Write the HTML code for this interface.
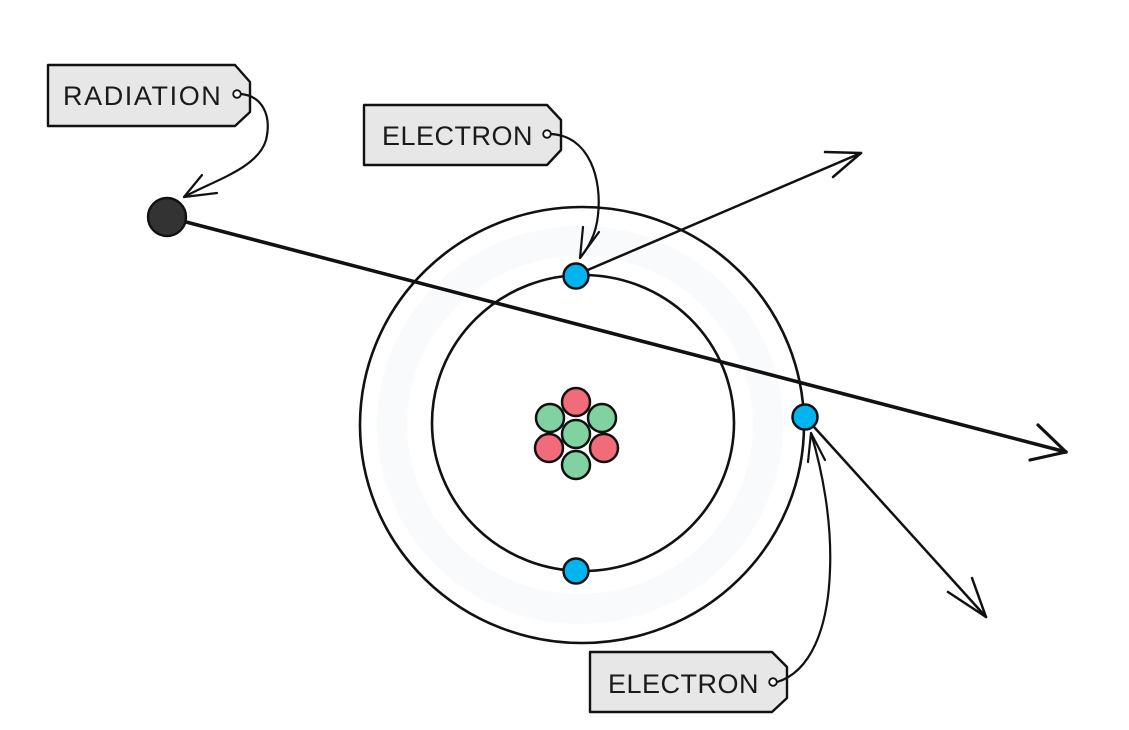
<!DOCTYPE html>
<html>
<head>
<meta charset="utf-8">
<style>
  html, body { margin: 0; padding: 0; background: #ffffff; }
  body { width: 1129px; height: 730px; overflow: hidden; }
  svg { display: block; }
  text { font-family: "Liberation Sans", "DejaVu Sans", sans-serif; font-size: 27px; fill: #1a1a1a; letter-spacing: 0.5px; }
</style>
</head>
<body>
<svg width="1129" height="730" viewBox="0 0 1129 730" xmlns="http://www.w3.org/2000/svg">
  <!-- faint watermark ring -->
  <ellipse cx="580" cy="425" rx="188" ry="184" fill="none" stroke="#f8fafc" stroke-width="30"/>

  <!-- orbits -->
  <ellipse cx="582" cy="425" rx="222" ry="218" fill="none" stroke="#111" stroke-width="2.6"/>
  <ellipse cx="583" cy="423" rx="151" ry="148" fill="none" stroke="#111" stroke-width="2.6"/>

  <!-- radiation path -->
  <line x1="167" y1="217" x2="1066" y2="452" stroke="#111" stroke-width="3.6" stroke-linecap="round"/>
  <polyline points="1038,425 1066,452 1030,460" fill="none" stroke="#111" stroke-width="3.2" stroke-linecap="round" stroke-linejoin="round"/>

  <!-- ejected electron from top -->
  <line x1="576" y1="275" x2="861" y2="153" stroke="#111" stroke-width="2.5" stroke-linecap="round"/>
  <polyline points="825,152 861,153 833,177" fill="none" stroke="#111" stroke-width="2.5" stroke-linecap="round" stroke-linejoin="round"/>

  <!-- ejected electron from right -->
  <line x1="805" y1="417" x2="986" y2="617" stroke="#111" stroke-width="2.5" stroke-linecap="round"/>
  <polyline points="948,592 986,617 972,578" fill="none" stroke="#111" stroke-width="2.5" stroke-linecap="round" stroke-linejoin="round"/>

  <!-- radiation particle -->
  <circle cx="167" cy="217" r="19" fill="#333333" stroke="#111" stroke-width="2.4"/>

  <!-- nucleus -->
  <g stroke="#111" stroke-width="2.5">
    <circle cx="576" cy="402" r="14" fill="#f26b78"/>
    <circle cx="550" cy="418" r="14" fill="#80d3a0"/>
    <circle cx="602" cy="418" r="14" fill="#80d3a0"/>
    <circle cx="549" cy="448" r="14" fill="#f26b78"/>
    <circle cx="604" cy="448" r="14" fill="#f26b78"/>
    <circle cx="576" cy="434" r="14" fill="#80d3a0"/>
    <circle cx="576" cy="465" r="14" fill="#80d3a0"/>
  </g>

  <!-- electrons -->
  <g stroke="#111" stroke-width="2.5" fill="#00b5ef">
    <circle cx="576" cy="276" r="12.5"/>
    <circle cx="576" cy="571" r="12.5"/>
    <circle cx="805" cy="417" r="12.5"/>
  </g>

  <!-- RADIATION label -->
  <path d="M48,65 L235,65 L250,82 L250,112 L235,126 L48,126 Z" fill="#e7e7e7" stroke="#111" stroke-width="2.4" stroke-linejoin="round"/>
  <text x="63" y="105" style="letter-spacing:1.6px">RADIATION</text>
  <circle cx="237" cy="94" r="3.8" fill="#fff" stroke="#111" stroke-width="1.8"/>
  <path d="M241,94 C262,96 272,115 266,140 C258,168 215,180 184,197" fill="none" stroke="#111" stroke-width="2.2" stroke-linecap="round"/>
  <polyline points="202,175 184,197 217,193" fill="none" stroke="#111" stroke-width="2.2" stroke-linecap="round" stroke-linejoin="round"/>

  <!-- ELECTRON label (top) -->
  <path d="M364,105 L547,105 L561,120 L561,150 L547,165 L364,165 Z" fill="#e7e7e7" stroke="#111" stroke-width="2.4" stroke-linejoin="round"/>
  <text x="382" y="145">ELECTRON</text>
  <circle cx="547" cy="134" r="3.8" fill="#fff" stroke="#111" stroke-width="1.8"/>
  <path d="M551,134 C590,136 602,180 598,215 C596,235 588,248 580,258" fill="none" stroke="#111" stroke-width="2.2" stroke-linecap="round"/>
  <polyline points="583,227 580,258 599,232" fill="none" stroke="#111" stroke-width="2.2" stroke-linecap="round" stroke-linejoin="round"/>

  <!-- ELECTRON label (bottom) -->
  <path d="M590,652 L772,652 L787,667 L787,698 L772,712 L590,712 Z" fill="#e7e7e7" stroke="#111" stroke-width="2.4" stroke-linejoin="round"/>
  <text x="608" y="693">ELECTRON</text>
  <circle cx="773" cy="682" r="3.8" fill="#fff" stroke="#111" stroke-width="1.8"/>
  <path d="M777,682 C810,672 828,630 830,570 C832,520 822,470 811,433" fill="none" stroke="#111" stroke-width="2.2" stroke-linecap="round"/>
  <polyline points="808,462 811,433 825,460" fill="none" stroke="#111" stroke-width="2.2" stroke-linecap="round" stroke-linejoin="round"/>
</svg>
</body>
</html>
